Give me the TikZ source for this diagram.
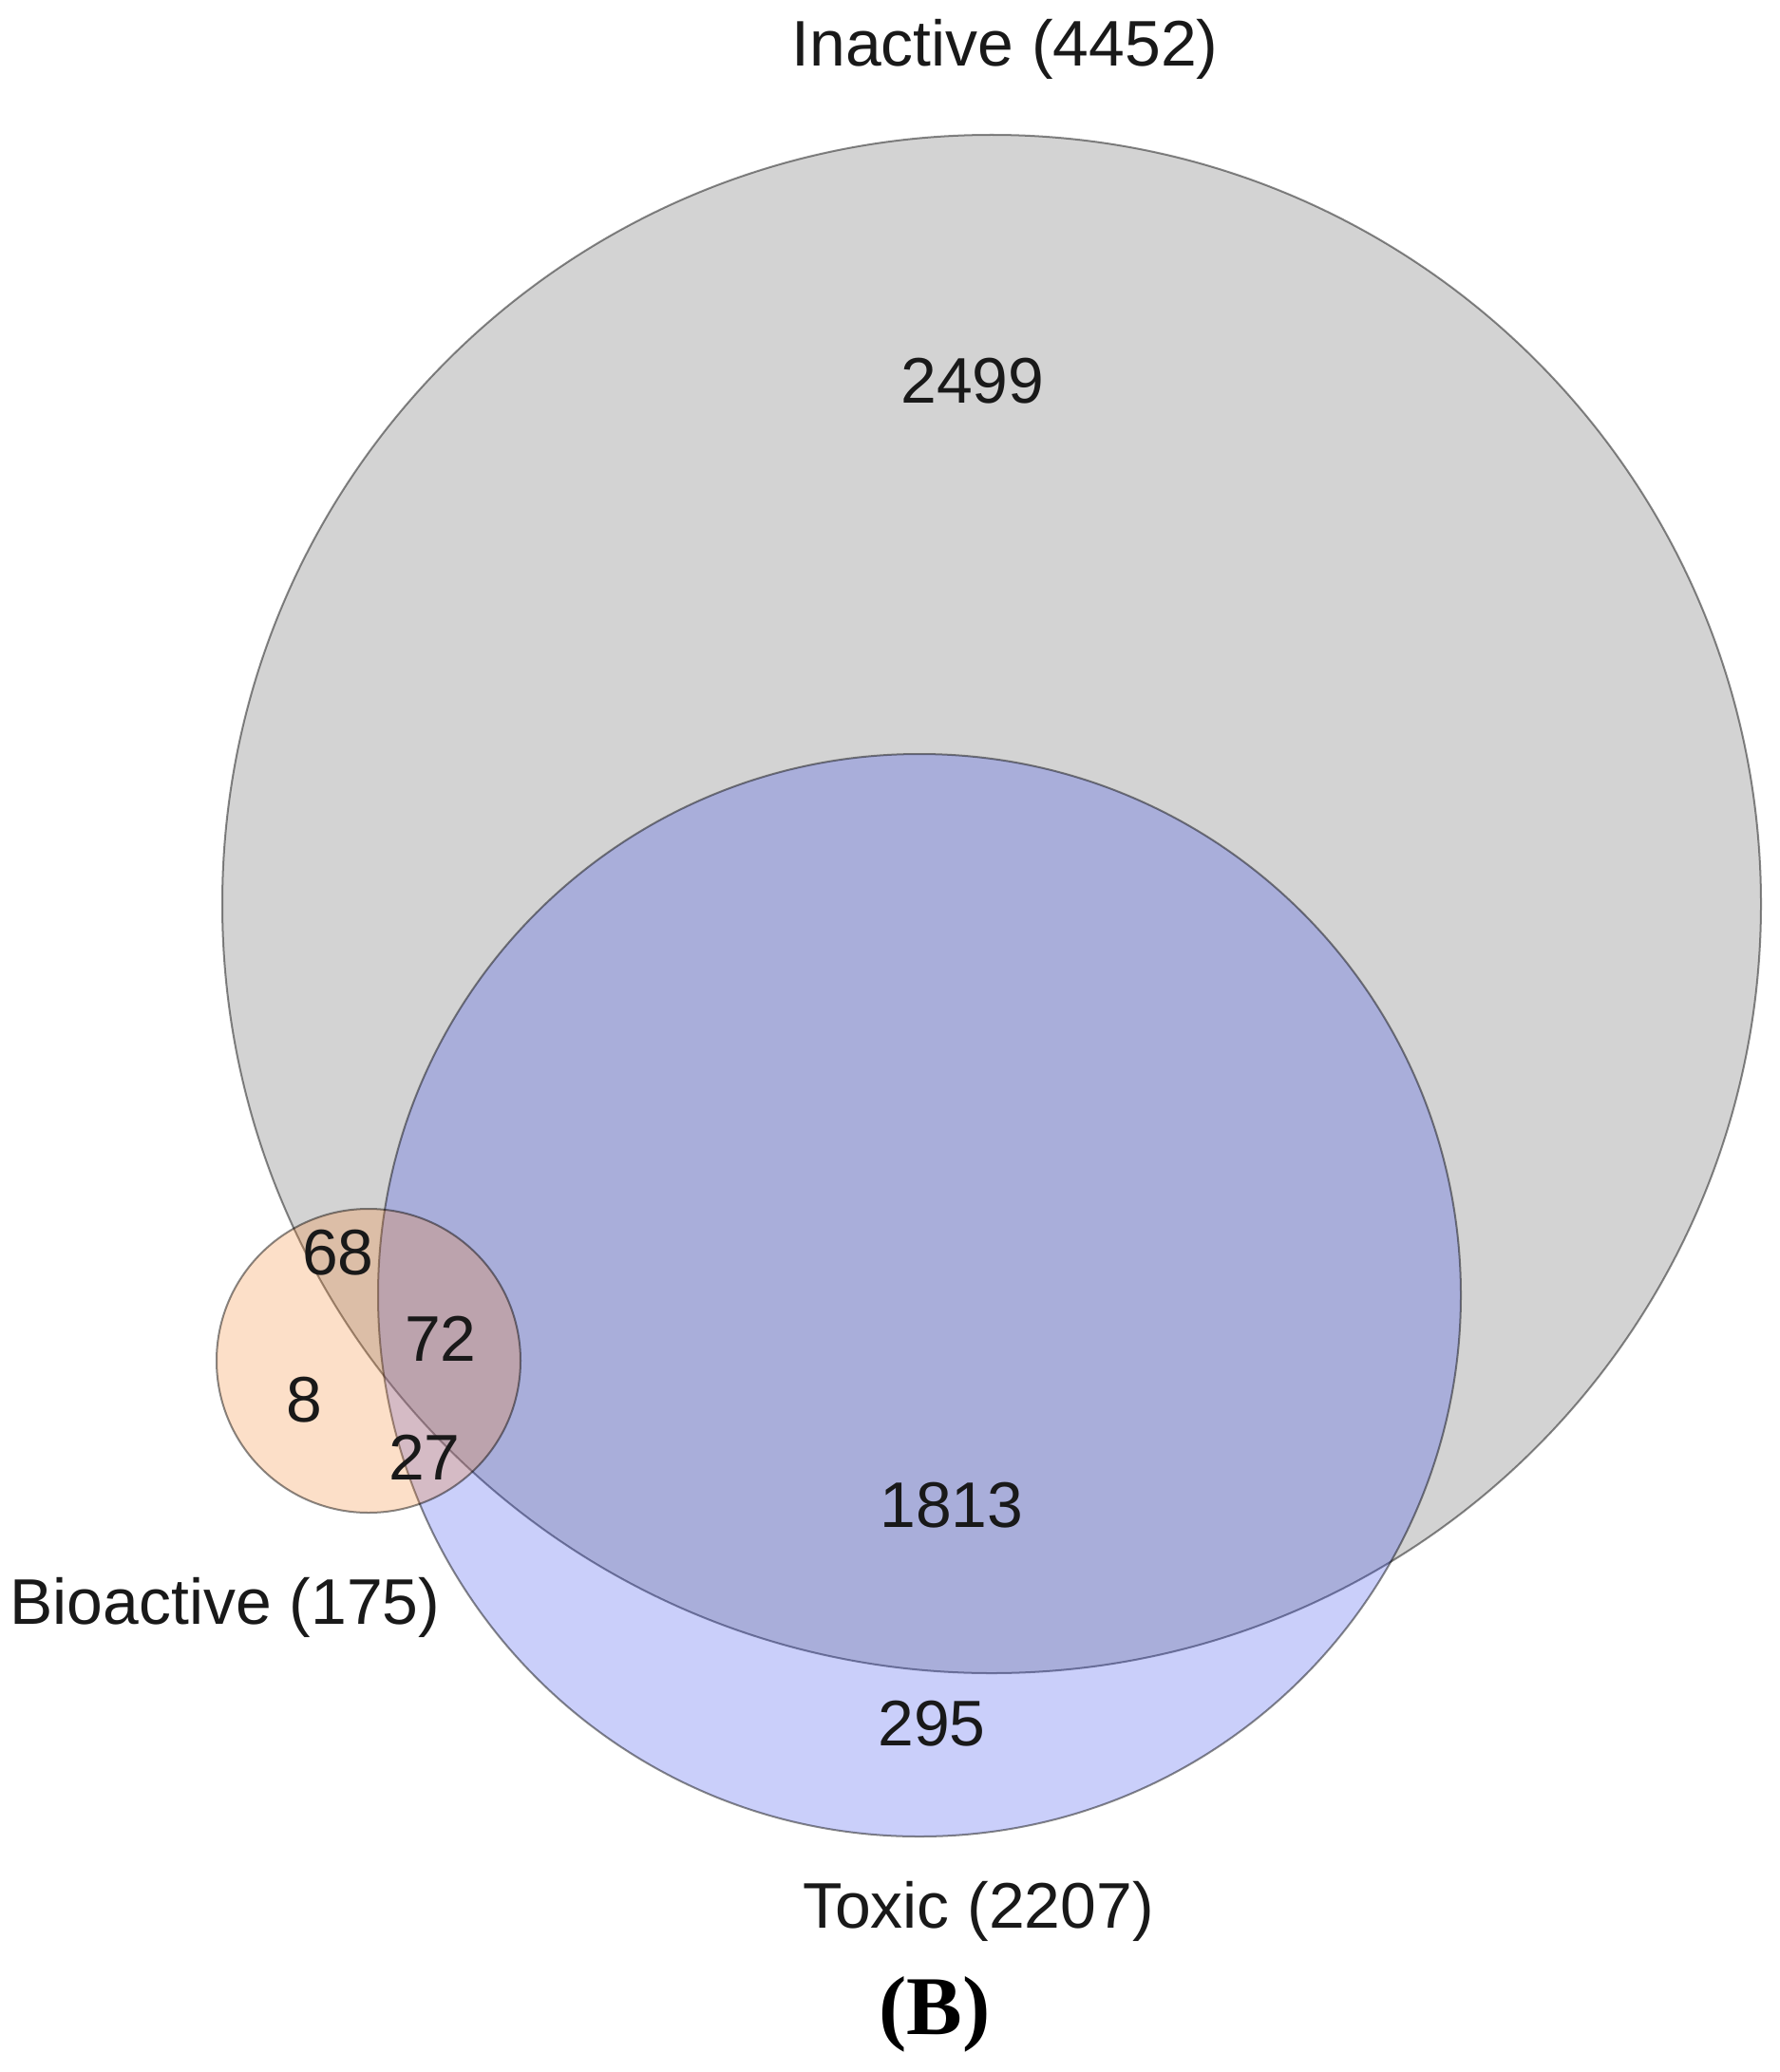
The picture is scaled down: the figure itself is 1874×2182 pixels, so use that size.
\documentclass[tikz,border=0pt]{standalone}
\usepackage{fontspec}
\setmainfont{Liberation Sans}
\newfontfamily\serifbold{Liberation Serif}
\definecolor{grayfill}{RGB}{211,211,211}
\definecolor{bluefill}{RGB}{47,67,239}
\definecolor{orangefill}{RGB}{247,131,39}
\tikzset{
  setcircle/.style={line width=0.57pt, draw=black, draw opacity=0.46},
  lbl/.style={anchor=base, inner sep=0pt, font=\fontsize{19.3}{23}\selectfont, text=black!90},
}
\begin{document}
\begin{tikzpicture}[x=0.01cm, y=-0.01cm]
\useasboundingbox (0,0) rectangle (1874,2182);
\fill[white] (0,0) rectangle (1874,2182);
% Inactive
\draw[setcircle, fill=grayfill] (1044,952) circle[radius=810];
% Toxic
\draw[setcircle, fill=bluefill, fill opacity=0.25] (968,1364) circle[radius=570];
% Bioactive
\draw[setcircle, fill=orangefill, fill opacity=0.25] (388,1433) circle[radius=160];
% labels
\node[lbl] (tInactive) at (1058,70) {Inactive (4452)};
\node[lbl] (tToxic) at (1030,2030) {Toxic (2207)};
\node[lbl] (tBio) at (237,1710) {Bioactive (175)};
\node[lbl] (n2499) at (1024,425) {2499};
\node[lbl] (n1813) at (1002,1608) {1813};
\node[lbl] (n295) at (981,1838) {295};
\node[lbl] (n68) at (356,1342) {68};
\node[lbl] (n72) at (464,1433) {72};
\node[lbl] (n8) at (320,1497) {8};
\node[lbl] (n27) at (447,1558) {27};
\node[anchor=base, inner sep=0pt, font=\serifbold\bfseries\fontsize{25}{30}\selectfont] (tB) at (984,2142) {(B)};
\end{tikzpicture}
\end{document}
